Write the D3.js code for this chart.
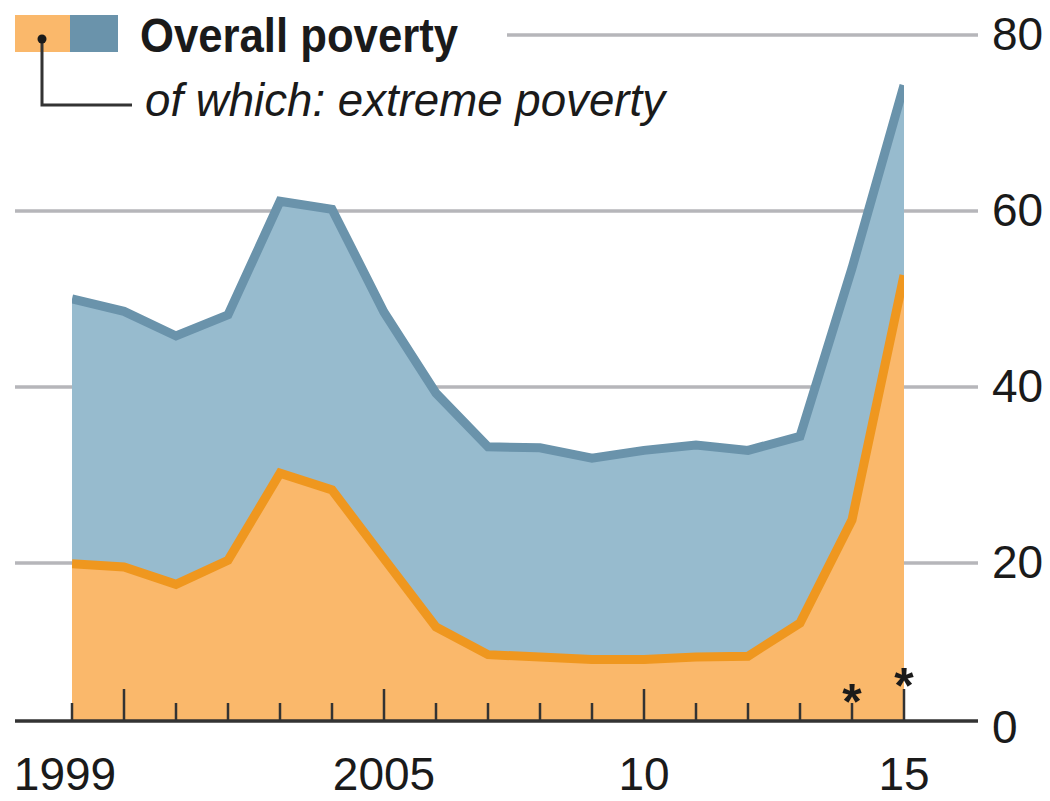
<!DOCTYPE html>
<html>
<head>
<meta charset="utf-8">
<script src="https://cdn.jsdelivr.net/npm/d3@7"></script>
<style>
  body { margin: 0; background: #fff; }
  svg { display: block; }
  text { font-family: "Liberation Sans", Arial, sans-serif; fill: #1a1a1a; }
</style>
</head>
<body>
<div id="chart"></div>
<script>
/////////////////////////////////////////////////////////
//Poverty rate, % of households, area chart
/////////////////////////////////////////////////////////

var years    = [1999, 2000, 2001, 2002, 2003, 2004, 2005, 2006, 2007, 2008, 2009, 2010, 2011, 2012, 2013, 2014, 2015];
var overall  = [50.0, 48.6, 45.8, 48.2, 61.1, 60.2, 48.5, 39.3, 33.2, 33.1, 31.9, 32.8, 33.4, 32.8, 34.4, 53.5, 74.3];
var extreme  = [19.9, 19.5, 17.3, 20.3, 30.2, 28.3, 20.5, 11.9, 8.4, 8.1, 7.8, 7.8, 8.1, 8.2, 12.4, 24.9, 52.7];
var yTicks   = [0, 20, 40, 60, 80];
var xLabels  = [[1999, "1999"], [2005, "2005"], [2010, "10"], [2015, "15"]];
var starred  = [2014, 2015];   //survey years marked with *

function PovertyChart(id, options) {
    var cfg = {
     w: 1050,
     h: 801,
     blueFill: "#97bbce",
     blueLine: "#6a93ab",
     orangeFill: "#fab86b",
     orangeLine: "#ef971f",
     gridColor: "#b6b6ba",
     axisColor: "#333333"
    };
    if('undefined' !== typeof options){
      for(var i in options){
        if('undefined' !== typeof options[i]){ cfg[i] = options[i]; }
      }
    }

    var svg = d3.select(id)
        .append("svg")
          .attr("width", cfg.w)
          .attr("height", cfg.h);

    //scales: baseline sits a little below the even gridline spacing
    var x = d3.scaleLinear().domain([1999, 2015]).range([72, 904]);
    var y = d3.scaleLinear().domain([0, 20, 80]).range([721, 563, 35]);

    var rows = years.map(function(yr, i){ return {year: yr, all: overall[i], ext: extreme[i]}; });

    //gridlines (top one shortened to leave room for legend)
    svg.append("g").selectAll("line")
        .data(yTicks.filter(function(d){ return d > 0; }))
        .join("line")
          .attr("x1", function(d){ return d === 80 ? 507 : 15; })
          .attr("x2", 978)
          .attr("y1", function(d){ return y(d); })
          .attr("y2", function(d){ return y(d); })
          .style("stroke", cfg.gridColor)
          .style("stroke-width", 3.5);

    //right hand axis labels
    svg.append("g").selectAll("text")
        .data(yTicks)
        .join("text")
          .attr("x", 992)
          .attr("y", function(d){ return y(d) + (d === 0 ? 22 : 15); })
          .style("font-size", "46px")
          .text(function(d){ return d; });

    //clip so the lines end flush with the areas
    svg.append("clipPath").attr("id", "plotclip")
      .append("rect")
        .attr("x", x(1999)).attr("y", 0)
        .attr("width", x(2015) - x(1999)).attr("height", y(0));

    var areaAll = d3.area()
        .x(function(d){ return x(d.year); })
        .y0(y(0))
        .y1(function(d){ return y(d.all); });
    var areaExt = d3.area()
        .x(function(d){ return x(d.year); })
        .y0(y(0))
        .y1(function(d){ return y(d.ext); });
    var lineAll = d3.line()
        .x(function(d){ return x(d.year); })
        .y(function(d){ return y(d.all); });
    var lineExt = d3.line()
        .x(function(d){ return x(d.year); })
        .y(function(d){ return y(d.ext); });

    svg.append("path").datum(rows)
        .attr("d", areaAll)
        .style("fill", cfg.blueFill);
    svg.append("path").datum(rows)
        .attr("d", areaExt)
        .style("fill", cfg.orangeFill);

    var lines = svg.append("g").attr("clip-path", "url(#plotclip)");
    lines.append("path").datum(rows)
        .attr("d", lineAll)
        .style("fill", "none")
        .style("stroke", cfg.blueLine)
        .style("stroke-width", 9)
        .style("stroke-linejoin", "miter");
    lines.append("path").datum(rows)
        .attr("d", lineExt)
        .style("fill", "none")
        .style("stroke", cfg.orangeLine)
        .style("stroke-width", 9)
        .style("stroke-linejoin", "miter");

    //baseline
    svg.append("line")
        .attr("x1", 15).attr("x2", 978)
        .attr("y1", y(0)).attr("y2", y(0))
        .style("stroke", cfg.axisColor)
        .style("stroke-width", 3.5);

    //year ticks, tall ones every five years
    svg.append("g").selectAll("line")
        .data(years)
        .join("line")
          .attr("x1", function(d){ return x(d); })
          .attr("x2", function(d){ return x(d); })
          .attr("y1", y(0))
          .attr("y2", function(d){ return d % 5 === 0 ? y(0) - 32 : y(0) - 18; })
          .style("stroke", cfg.axisColor)
          .style("stroke-width", 2.5);

    //asterisks
    svg.append("g").selectAll("text")
        .data(starred)
        .join("text")
          .attr("x", function(d){ return x(d); })
          .attr("y", function(d){ return d % 5 === 0 ? y(0) - 18 : y(0) - 2; })
          .attr("text-anchor", "middle")
          .style("font-size", "50px")
          .style("font-weight", "bold")
          .text("*");

    //x labels
    svg.append("g").selectAll("text")
        .data(xLabels)
        .join("text")
          .attr("x", function(d){ return d[0] === 1999 ? x(d[0]) - 7 : x(d[0]); })
          .attr("y", 790)
          .attr("text-anchor", "middle")
          .style("font-size", "46px")
          .text(function(d){ return d[1]; });

    //legend
    var leg = svg.append("g");
    leg.append("rect").attr("x", 15).attr("y", 15).attr("width", 55).attr("height", 37)
        .style("fill", cfg.orangeFill);
    leg.append("rect").attr("x", 70).attr("y", 15).attr("width", 48).attr("height", 37)
        .style("fill", cfg.blueLine);
    leg.append("path")
        .attr("d", "M42,39V105H132")
        .style("fill", "none")
        .style("stroke", "#333")
        .style("stroke-width", 3);
    leg.append("circle").attr("cx", 42).attr("cy", 39).attr("r", 4.5)
        .style("fill", "#1a1a1a");
    leg.append("text")
        .attr("x", 140).attr("y", 52)
        .attr("textLength", 318).attr("lengthAdjust", "spacingAndGlyphs")
        .style("font-size", "48px")
        .style("font-weight", "bold")
        .text("Overall poverty");
    leg.append("text")
        .attr("x", 145).attr("y", 116)
        .attr("textLength", 520).attr("lengthAdjust", "spacingAndGlyphs")
        .style("font-size", "46px")
        .style("font-style", "italic")
        .text("of which: extreme poverty");
}

PovertyChart("#chart");
</script>
</body>
</html>
